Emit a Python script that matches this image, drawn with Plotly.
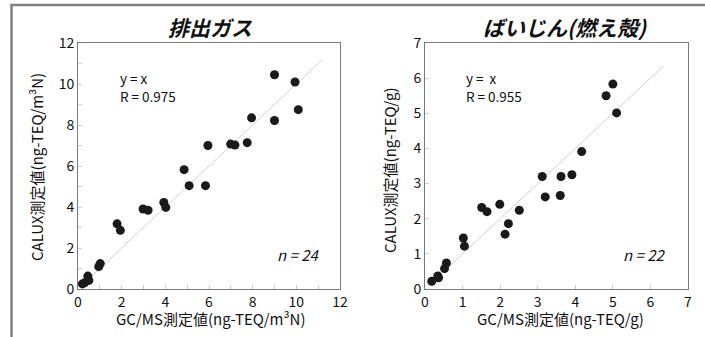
import plotly.graph_objects as go

# ---- data ----
gas_gcms = [0.20, 0.30, 0.45, 0.50, 0.95, 1.02, 1.79, 1.94, 2.98, 3.21, 3.93, 4.02,
            4.86, 5.09, 5.84, 5.95, 6.99, 7.19, 7.75, 7.95, 9.00, 9.00, 9.94, 10.09]
gas_calux = [0.25, 0.30, 0.63, 0.42, 1.09, 1.24, 3.18, 2.86, 3.90, 3.84, 4.22, 3.98,
             5.82, 5.04, 5.04, 7.00, 7.07, 7.02, 7.14, 8.35, 10.45, 8.22, 10.10, 8.75]
ash_gcms = [0.18, 0.34, 0.36, 0.52, 0.57, 1.02, 1.05, 1.51, 1.65, 1.99, 2.13, 2.22,
            2.51, 3.12, 3.20, 3.60, 3.62, 3.91, 4.17, 4.82, 5.00, 5.10]
ash_calux = [0.22, 0.37, 0.32, 0.58, 0.74, 1.45, 1.22, 2.32, 2.20, 2.41, 1.56, 1.86,
             2.24, 3.20, 2.62, 2.66, 3.20, 3.25, 3.91, 5.50, 5.83, 5.01]
gas_line = [0.25, 11.2]
ash_line = [0.5, 6.35]

titles = ["排出ガス", "ばいじん(燃え殻)"]
x_titles = ["GC/MS測定値(ng-TEQ/m³N)", "GC/MS測定値(ng-TEQ/g)"]
y_titles = ["CALUX測定値(ng-TEQ/m³N)", "CALUX測定値(ng-TEQ/g)"]
eq_texts = ["y = x<br>R = 0.975", "y =  x<br>R = 0.955"]
n_texts = ["n = 24", "n = 22"]

FONT = "Noto Sans CJK JP, Noto Sans, sans-serif"
W, H = 705, 337

fig = go.Figure()

marker = dict(color="#1a1a1a", size=9)
fig.add_trace(go.Scatter(x=gas_line, y=gas_line, mode="lines",
                         line=dict(color="#d0d0d0", width=1), xaxis="x", yaxis="y",
                         showlegend=False, hoverinfo="skip"))
fig.add_trace(go.Scatter(x=gas_gcms, y=gas_calux, mode="markers", marker=marker,
                         xaxis="x", yaxis="y", showlegend=False))
fig.add_trace(go.Scatter(x=ash_line, y=ash_line, mode="lines",
                         line=dict(color="#d0d0d0", width=1), xaxis="x2", yaxis="y2",
                         showlegend=False, hoverinfo="skip"))
fig.add_trace(go.Scatter(x=ash_gcms, y=ash_calux, mode="markers", marker=marker,
                         xaxis="x2", yaxis="y2", showlegend=False))

def px_x(p):
    return p / W

def px_y(p):
    return 1 - p / H

ydom = [px_y(289), px_y(43)]

def ax(dom, rng, dtick, anchor):
    return dict(domain=dom, range=rng, dtick=dtick, anchor=anchor,
                showgrid=False, zeroline=False, showline=True, mirror=True,
                linecolor="#7a7a7a", linewidth=1,
                ticks="inside", ticklen=4, tickcolor="#cfcfcf",
                minor=dict(dtick=1, ticks="inside", ticklen=4, tickcolor="#cfcfcf"),
                tickfont=dict(family=FONT, size=14, color="#111"),
                automargin=False, fixedrange=True)

fig.update_layout(
    width=W, height=H, autosize=False,
    margin=dict(l=0, r=0, t=0, b=0, pad=0, autoexpand=False),
    paper_bgcolor="white", plot_bgcolor="white",
    xaxis=ax([px_x(78), px_x(340)], [0, 12], 2, "y"),
    yaxis=ax(ydom, [0, 12], 2, "x"),
    xaxis2=ax([px_x(425), px_x(688)], [0, 7], 1, "y2"),
    yaxis2=ax(ydom, [0, 7], 1, "x2"),
)

ann = []
def add(txt, cx, cy, size, xanchor="center", angle=0, align="center"):
    ann.append(dict(text=txt, x=px_x(cx), y=px_y(cy), xref="paper", yref="paper",
                    showarrow=False, xanchor=xanchor, yanchor="middle",
                    textangle=angle, align=align,
                    font=dict(family=FONT, size=size, color="#111")))

for txt, cx in zip(titles, [210, 565]):
    add("<b><i>" + txt + "</i></b>", cx, 27, 21)
for txt, cx in zip(x_titles, [211, 560]):
    add(txt, cx, 318, 15)
for txt, cx, cy in zip(y_titles, [36, 389], [167, 170]):
    add(txt, cx, cy, 15, angle=-90)
for txt, cx in zip(eq_texts, [118, 464]):
    add(txt, cx, 87, 13.5, xanchor="left", align="left")
for txt, cx in zip(n_texts, [322, 668]):
    add("<i>" + txt + "</i>", cx, 254, 15, xanchor="right")

# outer frame (only its top and left edges fall inside the picture)
fig.update_layout(
    annotations=ann,
    shapes=[
        dict(type="rect", xref="paper", yref="paper", layer="above",
             x0=px_x(11.5), x1=1.02, y0=-0.02, y1=px_y(5),
             line=dict(color="#808080", width=2.5), fillcolor="rgba(0,0,0,0)"),
    ],
)

fig.write_html("out.html",
               config={"displayModeBar": False, "staticPlot": True},
               post_script="document.body.style.margin='0';"
                           "document.body.style.overflow='hidden';")
